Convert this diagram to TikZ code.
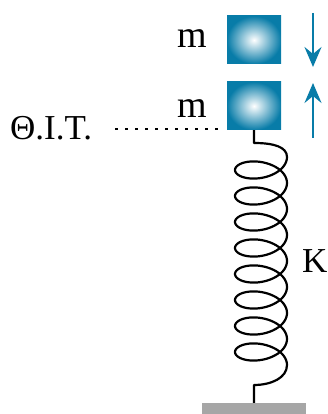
\documentclass[tikz,border=0pt]{standalone}
\usepackage{fontspec}
\setmainfont{Liberation Serif}
\usetikzlibrary{arrows.meta}
\definecolor{massblue}{RGB}{8,124,168}
\definecolor{groundgray}{RGB}{166,166,166}

\begin{document}
\begin{tikzpicture}[x=1pt,y=1pt,
    mass/.style={rectangle, minimum width=54pt, minimum height=48pt, inner sep=0pt, shading=radial, inner color=white, outer color=massblue},
    lbl/.style={font=\fontsize{35}{40}\selectfont, inner sep=0pt, anchor=base},
    motion/.style={draw=massblue, line width=2.5pt, -{Stealth[length=20pt,width=17pt,inset=7pt]}},
    spring/.style={line width=2.2pt, line join=round},
    eqline/.style={line width=1.2pt, dash pattern=on 2.5pt off 7.5pt},
    ground/.style={rectangle, fill=groundgray, minimum width=104pt, minimum height=11pt, inner sep=0pt}]
		\useasboundingbox (0,0) rectangle (328,414);
		\node[mass] (mup) at (254,374) {};
		\node[mass] (mdown) at (254,308) {};
		\node[ground] (floor) at (254,5.5) {};
		\node[lbl, font=\fontsize{38}{42}\selectfont] (mlabup) at (192,366) {m};
		\node[lbl, font=\fontsize{38}{42}\selectfont] (mlabdown) at (192,296) {m};
		\node[lbl, anchor=base west] (oit) at (10,274) {Θ.I.T.};
		\node[lbl, anchor=base west] (klab) at (302,141) {K};
		\coordinate (dtop) at (313,401);
		\coordinate (dtip) at (313,347);
		\coordinate (ubot) at (313,276);
		\coordinate (utip) at (313,331);
		\draw[motion] (dtop) -- (dtip);
		\draw[motion] (ubot) -- (utip);
		\coordinate (eqa) at (115,285);
		\coordinate (eqb) at (218,285);
		\draw[eqline] (eqa) -- (eqb);
		\draw[spring] (mdown.south) -- (254,271)
			.. controls (274,271) and (287,267) .. (287,257)
			-- plot[domain=180:3060, samples=400, smooth] ({261-26*cos(\x)}, {270-0.07222*\x+14.5*sin(\x)})
			.. controls (287,36) and (271,29) .. (254,29)
			-- (floor.north);
		\end{tikzpicture}
\end{document}
